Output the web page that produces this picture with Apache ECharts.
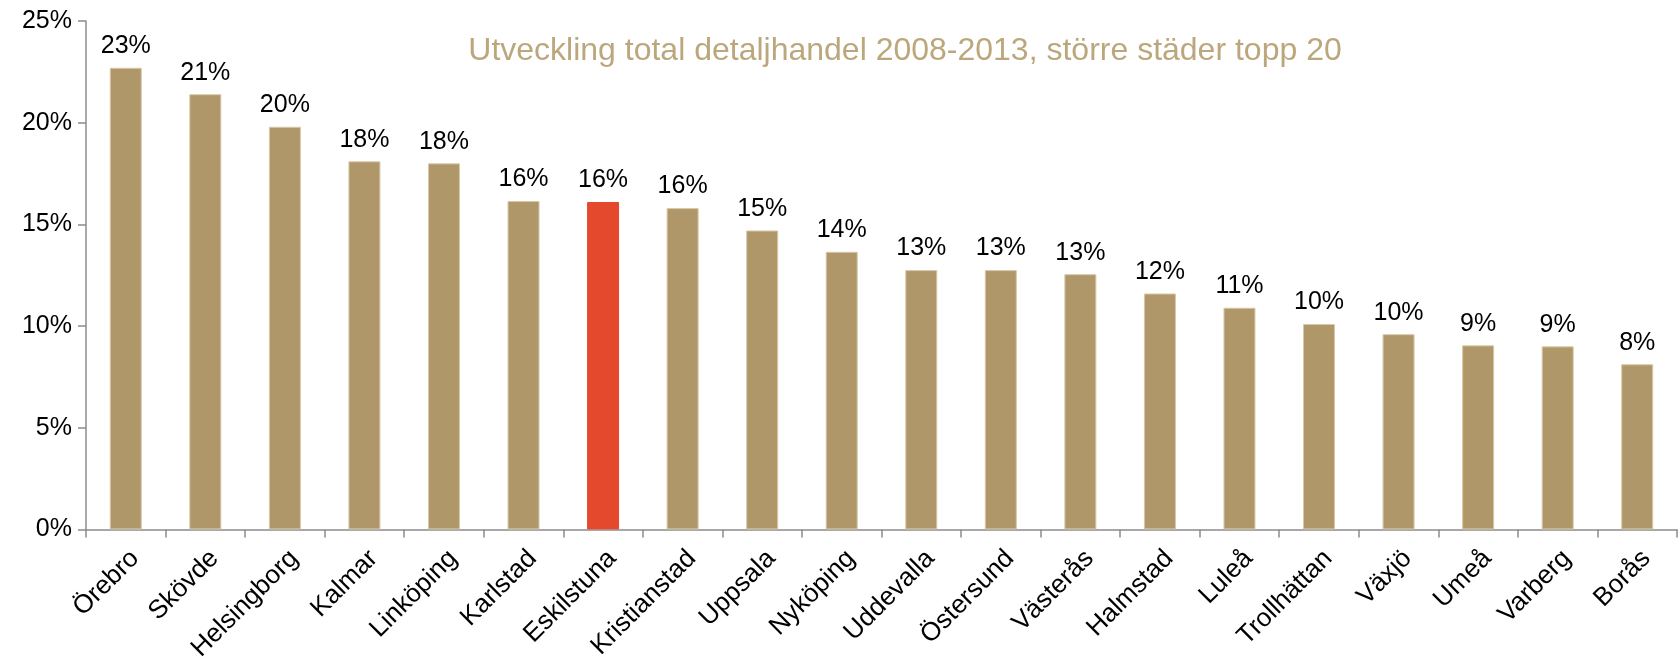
<!DOCTYPE html>
<html><head><meta charset="utf-8">
<script src="https://cdn.jsdelivr.net/npm/echarts@6/dist/echarts.min.js"></script>
<style>html,body{margin:0;padding:0;background:#fff}#c{width:1680px;height:664px}</style>
</head><body><div id="c"></div>
<script>
const cities = ["Örebro","Skövde","Helsingborg","Kalmar","Linköping","Karlstad","Eskilstuna","Kristianstad","Uppsala","Nyköping","Uddevalla","Östersund","Västerås","Halmstad","Luleå","Trollhättan","Växjö","Umeå","Varberg","Borås"];
const growth = [22.7,21.4,19.8,18.1,18.0,16.15,16.1,15.8,14.7,13.65,12.75,12.75,12.55,11.6,10.9,10.1,9.6,9.05,9.0,8.12];
const highlightCity = "Eskilstuna";
const yTicks = [0,5,10,15,20,25];
const titleText = "Utveckling total detaljhandel 2008-2013, större städer topp 20";

const FONT = "Liberation Sans";
const chart = echarts.init(document.getElementById('c'));
chart.setOption({
  animation:false,
  textStyle:{fontFamily:FONT},
  title:{text:titleText,left:900,top:30,textAlign:'center',
    textStyle:{fontFamily:FONT,fontSize:32,fontWeight:'normal',color:'#bca77c'}},
  grid:{left:86,right:3,top:21,bottom:131},
  xAxis:{type:'category',data:cities,
    axisLine:{lineStyle:{color:'#8c8c8c',width:1.5}},
    axisTick:{show:true,alignWithLabel:false,length:8,lineStyle:{color:'#8c8c8c',width:1.5}},
    axisLabel:{rotate:45,interval:0,fontFamily:FONT,fontSize:26,color:'#000',margin:16,
      align:'right',verticalAlign:'top'}},
  yAxis:{type:'value',min:yTicks[0],max:yTicks[yTicks.length-1],interval:5,
    splitLine:{show:false},
    axisLine:{show:true,lineStyle:{color:'#8c8c8c',width:1.5}},
    axisTick:{show:true,length:8,lineStyle:{color:'#8c8c8c',width:1.5}},
    axisLabel:{formatter:v=>v+'%',fontFamily:FONT,fontSize:25,color:'#000',margin:14}},
  series:[{type:'bar',barWidth:32,
    data:growth.map((v,i)=>({value:v,itemStyle:{color:cities[i]===highlightCity?'#e5492d':'#b09769',
      borderColor:cities[i]===highlightCity?'#e5492d':'#d8c9a8',borderWidth:1}})),
    label:{show:true,position:'top',distance:9,fontFamily:FONT,fontSize:25,color:'#000',
      formatter:p=>Math.round(p.value)+'%'}}]
});
</script></body></html>
